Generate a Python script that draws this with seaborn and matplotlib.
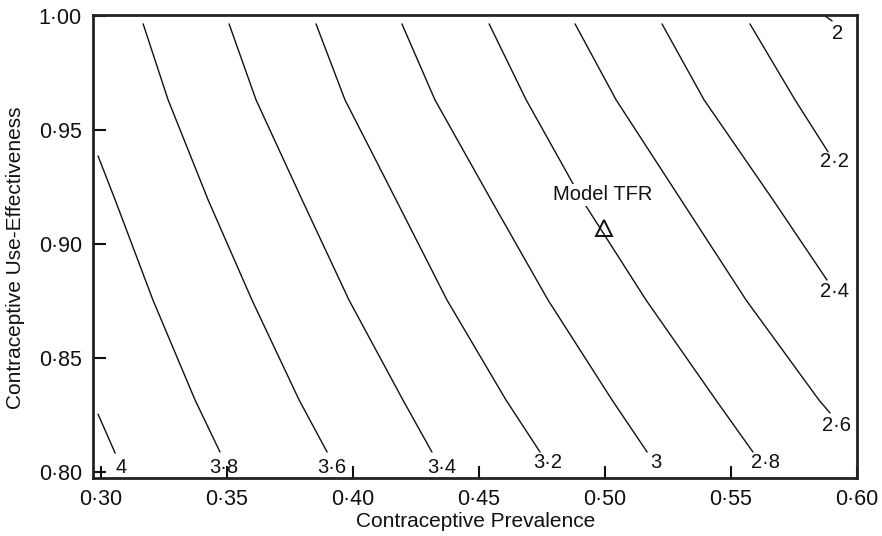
import matplotlib
matplotlib.use("Agg")
import matplotlib.pyplot as plt
import seaborn as sns
import pandas as pd

# ---- data (TFR contours) ----
levels = [4.0, 3.8, 3.6, 3.4, 3.2, 3.0, 2.8, 2.6, 2.4, 2.2, 2.0]
level_labels = ["4", "3·8", "3·6", "3·4", "3·2", "3", "2·8", "2·6", "2·4", "2·2", "2"]

prev_40 = [0.2988, 0.3056]
eff_40 = [0.8254, 0.8083]
prev_38 = [0.2988, 0.3056, 0.3206, 0.3373, 0.3472]
eff_38 = [0.9386, 0.9193, 0.8754, 0.8316, 0.8088]
prev_36 = [0.3167, 0.3266, 0.3425, 0.3599, 0.3786, 0.3897]
eff_36 = [0.9965, 0.9632, 0.9193, 0.8754, 0.8316, 0.8088]
prev_34 = [0.3508, 0.3615, 0.3798, 0.3984, 0.4198, 0.4313]
eff_34 = [0.9965, 0.9632, 0.9193, 0.8754, 0.8316, 0.8088]
prev_32 = [0.3853, 0.3968, 0.4171, 0.4373, 0.4607, 0.4742]
eff_32 = [0.9965, 0.9632, 0.9193, 0.8754, 0.8316, 0.8088]
prev_30 = [0.4194, 0.4325, 0.4548, 0.4774, 0.5028, 0.5167]
eff_30 = [0.9965, 0.9632, 0.9193, 0.8754, 0.8316, 0.8088]
prev_28 = [0.4540, 0.4687, 0.4909, 0.5163, 0.5440, 0.5587]
eff_28 = [0.9965, 0.9632, 0.9193, 0.8754, 0.8316, 0.8088]
prev_26 = [0.4881, 0.5044, 0.5302, 0.5560, 0.5849, 0.5893]
eff_26 = [0.9965, 0.9632, 0.9193, 0.8754, 0.8316, 0.8259]
prev_24 = [0.5226, 0.5393, 0.5667, 0.5881]
eff_24 = [0.9965, 0.9632, 0.9193, 0.8842]
prev_22 = [0.5575, 0.5754, 0.5885]
eff_22 = [0.9965, 0.9632, 0.9404]
prev_20 = [0.5873, 0.5901]
eff_20 = [1.0000, 0.9978]

# label anchor positions (prevalence, effectiveness)
label_prev = [0.3079, 0.3488, 0.3917, 0.4353, 0.4774, 0.5202, 0.5635, 0.5917, 0.5909, 0.5909, 0.5921]
label_eff = [0.8022, 0.8022, 0.8022, 0.8022, 0.8040, 0.8040, 0.8040, 0.8206, 0.8790, 0.9360, 0.9925]

model_prev = 0.4995
model_eff = 0.907
model_label = "Model TFR"

x_ticks = [0.30, 0.35, 0.40, 0.45, 0.50, 0.55, 0.60]
x_ticklabels = ["0·30", "0·35", "0·40", "0·45", "0·50", "0·55", "0·60"]
y_ticks = [0.80, 0.85, 0.90, 0.95, 1.00]
y_ticklabels = ["0·80", "0·85", "0·90", "0·95", "1·00"]

# ---- build long table ----
series = [
    (prev_40, eff_40), (prev_38, eff_38), (prev_36, eff_36), (prev_34, eff_34),
    (prev_32, eff_32), (prev_30, eff_30), (prev_28, eff_28), (prev_26, eff_26),
    (prev_24, eff_24), (prev_22, eff_22), (prev_20, eff_20),
]
rows = []
for lvl, (px, ey) in zip(levels, series):
    for i, (a, b) in enumerate(zip(px, ey)):
        rows.append({"level": str(lvl), "order": i, "prev": a, "eff": b})
df = pd.DataFrame(rows)

sns.set_theme(style="ticks")
plt.rcParams["font.family"] = ["Liberation Sans", "DejaVu Sans"]

fig = plt.figure(figsize=(8.82, 5.36), dpi=100)
ax = fig.add_axes([93 / 882, 1 - 478 / 536, (857 - 93) / 882, (478 - 15) / 536])

sns.lineplot(data=df, x="prev", y="eff", hue="level", sort=False, estimator=None,
             palette=["#111111"] * len(levels), legend=False, linewidth=1.0, ax=ax)

for txt, lx, ly in zip(level_labels, label_prev, label_eff):
    ax.text(lx, ly, txt, ha="center", va="center", fontsize=14.5, color="#111111")

ax.plot([model_prev], [model_eff], marker="^", markersize=12, markerfacecolor="none",
        markeredgecolor="#111111", markeredgewidth=1.4, linestyle="none")
ax.text(model_prev - 0.0005, 0.9215, model_label, ha="center", va="center", fontsize=14.5,
        color="#111111", bbox=dict(facecolor="white", edgecolor="none", pad=1.0))

ax.set_xlim(0.2968, 0.60)
ax.set_ylim(0.7974, 1.0004)
ax.set_xticks(x_ticks)
ax.set_xticklabels(x_ticklabels)
ax.set_yticks(y_ticks)
ax.set_yticklabels(y_ticklabels)
ax.tick_params(axis="both", direction="in", length=9, width=1.5, labelsize=15.5,
               color="#111111", labelcolor="#111111")
ax.tick_params(axis="x", pad=8)
ax.tick_params(axis="y", pad=8)

ax.set_xlabel("Contraceptive Prevalence", fontsize=15, color="#111111")
ax.set_ylabel("Contraceptive Use-Effectiveness", fontsize=15, color="#111111")
ax.xaxis.set_label_coords(0.501, -0.074)
ax.yaxis.set_label_coords(-0.089, 0.475)

for s in ax.spines.values():
    s.set_visible(True)
    s.set_linewidth(2.0)
    s.set_color("#222222")

fig.savefig("out.png", dpi=100, facecolor="white")
